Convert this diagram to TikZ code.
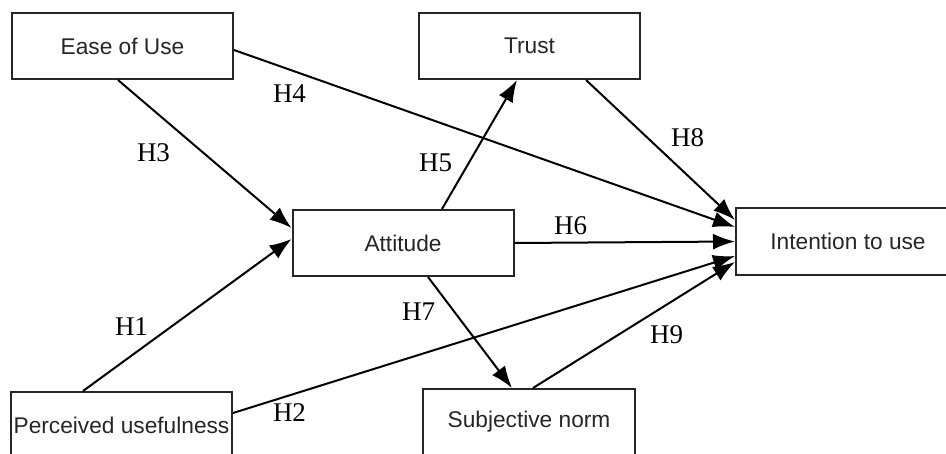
\documentclass[tikz,border=0pt]{standalone}
\usepackage{fontspec}
\setmainfont{Liberation Serif}
\newfontfamily\boxfont{Liberation Sans}
\usepackage{tikz}
\usetikzlibrary{arrows.meta}

\begin{document}
\begin{tikzpicture}[
  x=0.5pt, y=-0.5pt,
  box/.style={draw=black!85, line width=1pt, fill=white, inner sep=0pt, minimum width=110.5pt, minimum height=33pt, font=\boxfont\fontsize{11.35}{13}\selectfont, text=black!85},
  arr/.style={-{Latex[length=11pt, width=8pt]}, black, line width=1pt},
  hyp/.style={font=\fontsize{13.5}{15}\selectfont, inner sep=0pt}]
  \useasboundingbox (0,0) rectangle (946,454);
  \clip (0,0) rectangle (946,454);
  % constructs, placed at pixel positions
  \node[box] (eou)   at (122.5,46)  {Ease of Use};
  \node[box] (trust) at (529.5,46)  {Trust};
  \node[box] (att)   at (403,243)   {Attitude};
  \node[box, minimum width=112pt, minimum height=33.5pt] (itu) at (848,241.5) {Intention to use};
  \node[box] (pu)    at (121.5,425) {Perceived usefulness};
  \node[box, minimum width=106pt] (sn) at (529,422) {Subjective norm};
  % paths
  \draw[arr] ([xshift=-2.25pt]eou.south) -- ([yshift=7.5pt]att.west);
  \draw[arr] ([xshift=-19.25pt]pu.north) -- ([yshift=2pt]att.west);
  \draw[arr] ([yshift=-2pt]eou.east) -- ([yshift=7.25pt]itu.west);
  \draw[arr] ([xshift=19.5pt]att.north) -- ([xshift=-6.25pt]trust.south);
  \draw[arr] ([xshift=28.25pt]trust.south) -- ([yshift=10.75pt]itu.west);
  \draw[arr] (att.east) -- (itu.west);
  \draw[arr] ([xshift=12.5pt]att.south) -- ([xshift=-8.5pt]sn.north);
  \draw[arr] ([xshift=2pt]sn.north) -- ([yshift=-10.25pt]itu.west);
  \draw[arr] ([yshift=6pt]pu.east) -- ([yshift=-7.25pt]itu.west);
  % hypothesis labels
  \node[hyp] (h1) at (131.5,327) {H1};
  \node[hyp] (h2) at (289.5,413) {H2};
  \node[hyp] (h3) at (153.5,153) {H3};
  \node[hyp] (h4) at (289.5,94)  {H4};
  \node[hyp] (h5) at (435.5,163) {H5};
  \node[hyp] (h6) at (570.5,226) {H6};
  \node[hyp] (h7) at (418.5,312) {H7};
  \node[hyp] (h8) at (687.5,138) {H8};
  \node[hyp] (h9) at (666.5,335) {H9};
\end{tikzpicture}
\end{document}
